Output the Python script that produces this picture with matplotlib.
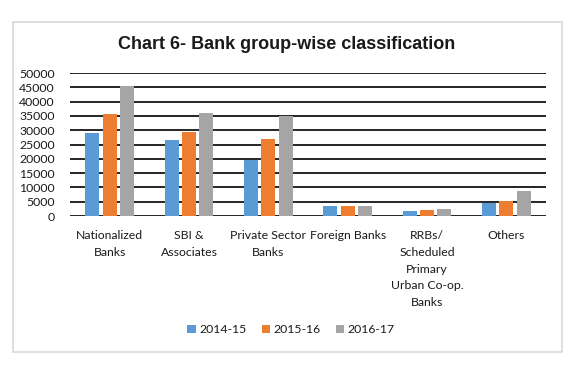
import matplotlib
matplotlib.use("Agg")
import matplotlib.pyplot as plt
import numpy as np
from matplotlib.patches import Rectangle

# data
categories = ["Nationalized\nBanks", "SBI &\nAssociates", "Private Sector\nBanks",
              "Foreign Banks", "RRBs/\nScheduled\nPrimary\nUrban Co-op.\nBanks", "Others"]
years = ["2014-15", "2015-16", "2016-17"]
v_2014 = [29000, 26600, 19700, 3400, 1850, 4650]
v_2015 = [35500, 29500, 26800, 3400, 2200, 5250]
v_2016 = [45300, 35900, 35000, 3400, 2450, 8850]
colors = ["#5B9BD5", "#ED7D31", "#A5A5A5"]
yticks = list(range(0, 50001, 5000))

plt.rcParams['font.family'] = ['Lato', 'DejaVu Sans']

fig = plt.figure(figsize=(5.72, 3.65), dpi=100)
fig.patch.set_facecolor("white")

# light grey frame round the chart
fig.patches.append(Rectangle((0.0227, 0.0356), 0.960, 0.904, transform=fig.transFigure,
                             fill=False, edgecolor="#D9D9D9", linewidth=1.2))

ax = fig.add_axes([0.1224, 0.4082, 0.8321, 0.3918])
x = np.arange(len(categories))
step = 0.218
for i, (vals, lab) in enumerate(zip([v_2014, v_2015, v_2016], years)):
    ax.bar(x + (i - 1) * step, vals, width=0.178, color=colors[i], label=lab, zorder=3)

ax.set_xlim(-0.5, len(categories) - 0.5)
ax.set_ylim(0, 50000)
ax.set_yticks(yticks)
ax.set_yticklabels([str(t) for t in yticks], fontsize=8.8, color="#1a1a1a")
ax.set_xticks(x)
ax.set_xticklabels(categories, fontsize=8.8, color="#1a1a1a", linespacing=1.65,
                   va="top", ha="center")
ax.tick_params(axis="both", length=0)
ax.tick_params(axis="y", pad=11)
ax.tick_params(axis="x", pad=10)
ax.yaxis.grid(True, color="black", linewidth=1.2, zorder=0)
ax.set_axisbelow(True)
for s in ax.spines.values():
    s.set_visible(False)

fig.text(0.501, 0.877, "Chart 6- Bank group-wise classification", ha="center", va="center",
         fontsize=13, fontweight="bold", family=["Liberation Sans", "DejaVu Sans"], color="#1a1a1a")

fig.legend(loc="center", bbox_to_anchor=(0.509, 0.096), ncol=3, frameon=False,
           fontsize=8.8, handlelength=0.7, handleheight=0.7, handletextpad=0.3,
           columnspacing=1.2, labelcolor="#1a1a1a")

fig.savefig("out.png", dpi=100)
